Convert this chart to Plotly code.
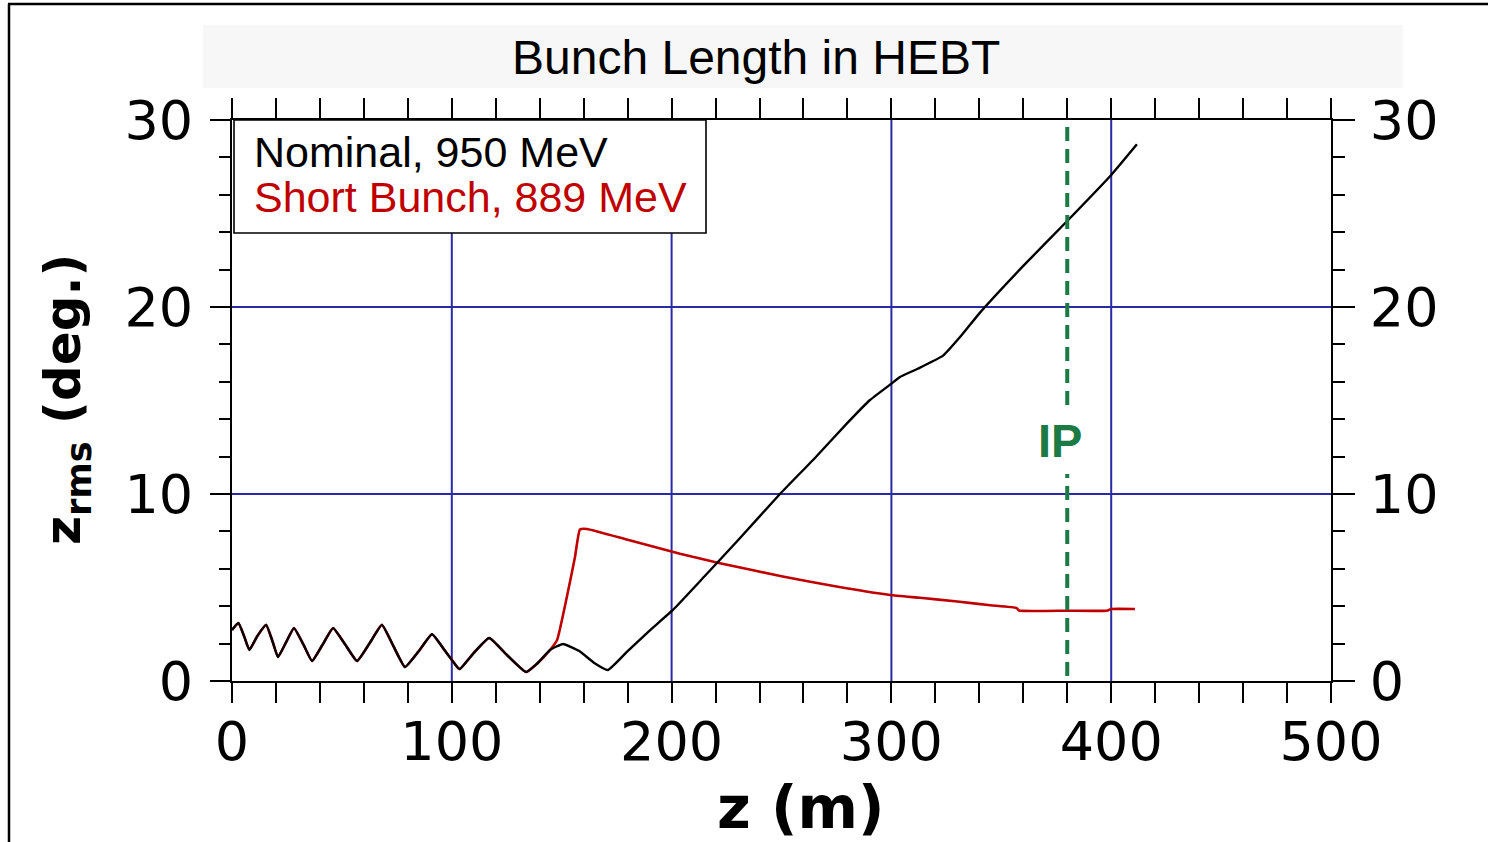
import plotly.graph_objects as go

# ---------------- data ----------------
z_nominal = [0, 2.9, 5.5, 7.9, 11.5, 15.5, 18.5, 20.9, 24.5, 28.2, 32.5, 36.4, 41, 46, 51.5,
             56.9, 62.5, 68.2, 73.5, 78.7, 85, 91, 97, 102.8, 103.7, 110, 117, 125, 133.8,
             139, 144.7, 150.6, 158, 165, 171, 180, 190, 200.6, 215, 230, 249.3, 265,
             280, 290, 300, 303.9, 312, 323.5, 332, 340.3, 360, 380, 400, 411.7]
y_nominal = [2.73, 3.1, 2.4, 1.66, 2.4, 3.0, 2.1, 1.28, 2.05, 2.83, 1.95, 1.07, 1.9, 2.83, 1.95,
             1.07, 2.0, 3.0, 1.85, 0.75, 1.6, 2.5, 1.6, 0.7, 0.64, 1.5, 2.3, 1.4, 0.48,
             0.95, 1.66, 1.98, 1.6, 0.95, 0.59, 1.6, 2.7, 3.8, 5.6, 7.5, 10.0, 11.9,
             13.8, 15.0, 15.9, 16.26, 16.7, 17.4, 18.5, 19.7, 22.2, 24.6, 27.06, 28.7]

z_short = [0, 2.9, 5.5, 7.9, 11.5, 15.5, 18.5, 20.9, 24.5, 28.2, 32.5, 36.4, 41, 46, 51.5,
           56.9, 62.5, 68.2, 73.5, 78.7, 85, 91, 97, 102.8, 103.7, 110, 117, 125, 133.8,
           139, 144.7, 147.9, 152, 156, 158.3, 161.5, 180, 203.8, 222, 250, 275, 299.4,
           313, 330, 345, 357, 358, 380, 398, 400, 410.8]
y_short = [2.73, 3.1, 2.4, 1.66, 2.4, 3.0, 2.1, 1.28, 2.05, 2.83, 1.95, 1.07, 1.9, 2.83, 1.95,
           1.07, 2.0, 3.0, 1.85, 0.75, 1.6, 2.5, 1.6, 0.7, 0.64, 1.5, 2.3, 1.4, 0.48,
           0.95, 1.66, 2.19, 4.3, 6.6, 8.1, 8.13, 7.55, 6.8, 6.3, 5.6, 5.05, 4.6,
           4.45, 4.25, 4.05, 3.9, 3.77, 3.76, 3.76, 3.85, 3.85]

ip_z = 380
x_ticks = [0, 100, 200, 300, 400, 500]
y_ticks = [0, 10, 20, 30]
label_nominal = "Nominal, 950 MeV"
label_short = "Short Bunch, 889 MeV"

# ---------------- layout helpers (pixel geometry) ----------------
W, H = 1488, 842
L, R, T, B = 232, 1331, 120, 681


def xp(px):
    return (px - L) / (R - L)


def yp(py):
    return (B - py) / (B - T)


RED = "#c00000"
GREEN = "#1c7a44"
GRID = "#2a2aa4"

fig = go.Figure()
fig.add_trace(go.Scatter(x=z_short, y=y_short, mode="lines",
                         line=dict(color=RED, width=2.6, shape="spline", smoothing=0.4),
                         showlegend=False))
fig.add_trace(go.Scatter(x=z_nominal, y=y_nominal, mode="lines",
                         line=dict(color="black", width=2.4, shape="spline", smoothing=0.4),
                         showlegend=False))
fig.add_trace(go.Scatter(x=[None], y=[None], yaxis="y2", showlegend=False))

tickfont = dict(family="DejaVu Sans", size=54, color="black")
fig.update_layout(
    width=W, height=H,
    margin=dict(l=L, r=W - R, t=T, b=H - B, pad=0),
    paper_bgcolor="white", plot_bgcolor="white",
    xaxis=dict(range=[0, 500], tickvals=x_ticks, showgrid=False, zeroline=False,
               showline=True, linecolor="black", linewidth=2, mirror="allticks",
               ticks="outside", ticklen=20, tickwidth=2, tickcolor="black",
               ticklabelstandoff=-8, tickfont=tickfont,
               minor=dict(dtick=20, ticks="outside", ticklen=11, tickwidth=2,
                          tickcolor="black", showgrid=False)),
    yaxis=dict(range=[0, 30], tickvals=y_ticks, showgrid=False, zeroline=False,
               showline=True, linecolor="black", linewidth=2,
               ticks="outside", ticklen=20, tickwidth=2, tickcolor="black",
               ticklabelstandoff=6, tickfont=tickfont,
               minor=dict(dtick=2, ticks="outside", ticklen=11, tickwidth=2,
                          tickcolor="black", showgrid=False)),
    yaxis2=dict(range=[0, 30], tickvals=y_ticks, overlaying="y", side="right",
                showgrid=False, zeroline=False, showline=True, linecolor="black",
                linewidth=2, ticks="outside", ticklen=22, tickwidth=2,
                tickcolor="black", ticklabelstandoff=4, tickfont=tickfont,
                minor=dict(dtick=2, ticks="outside", ticklen=12, tickwidth=2,
                           tickcolor="black", showgrid=False)),
)

shapes = []
# grid lines
for gx in [100, 200, 300, 400]:
    shapes.append(dict(type="line", xref="x", yref="y", x0=gx, x1=gx, y0=0, y1=30,
                       line=dict(color=GRID, width=2), layer="below"))
for gy in [10, 20]:
    shapes.append(dict(type="line", xref="x", yref="y", x0=0, x1=500, y0=gy, y1=gy,
                       line=dict(color=GRID, width=2), layer="below"))
# IP dashed marker (two pieces around the label)
shapes.append(dict(type="line", xref="x", yref="paper", x0=ip_z, x1=ip_z,
                   y0=yp(405), y1=1, line=dict(color=GREEN, width=4, dash="14px,8px")))
shapes.append(dict(type="line", xref="x", yref="paper", x0=ip_z, x1=ip_z,
                   y0=yp(676), y1=yp(474), line=dict(color=GREEN, width=4, dash="14px,8px")))
# legend box
shapes.append(dict(type="rect", xref="paper", yref="paper", x0=xp(234), x1=xp(706),
                   y0=yp(233), y1=yp(120), line=dict(color="black", width=1.6),
                   fillcolor="white", layer="above"))
# title background
shapes.append(dict(type="rect", xref="paper", yref="paper", x0=xp(203), x1=xp(1403),
                   y0=yp(88), y1=yp(25), line=dict(width=0), fillcolor="#f7f7f7",
                   layer="below"))
# outer frame (top and left edges)
shapes.append(dict(type="line", xref="paper", yref="paper", x0=xp(8), x1=xp(1500),
                   y0=yp(4), y1=yp(4), line=dict(color="black", width=2.5)))
shapes.append(dict(type="line", xref="paper", yref="paper", x0=xp(9), x1=xp(9),
                   y0=yp(4), y1=yp(860), line=dict(color="black", width=2.5)))
fig.update_layout(shapes=shapes)

ann = []
ann.append(dict(text="Bunch Length in HEBT", xref="paper", yref="paper",
                x=xp(756), y=yp(57), xanchor="center", yanchor="middle", showarrow=False,
                font=dict(family="Liberation Sans", size=48, color="black")))
ann.append(dict(text=label_nominal, xref="paper", yref="paper",
                x=xp(252), y=yp(152), xanchor="left", yanchor="middle", showarrow=False,
                font=dict(family="Liberation Sans", size=43, color="black")))
ann.append(dict(text=label_short, xref="paper", yref="paper",
                x=xp(252), y=yp(197), xanchor="left", yanchor="middle", showarrow=False,
                font=dict(family="Liberation Sans", size=43, color=RED)))
ann.append(dict(text="<b>IP</b>", xref="x", yref="paper",
                x=ip_z - 3.5, y=yp(440), xanchor="center", yanchor="middle", showarrow=False,
                font=dict(family="Liberation Sans", size=47, color=GREEN)))
ann.append(dict(text="<b>z (m)</b>", xref="paper", yref="paper",
                x=xp(800), y=yp(808), xanchor="center", yanchor="middle", showarrow=False,
                font=dict(family="DejaVu Sans", size=58, color="black")))
ann.append(dict(text="<b>z<sub>rms</sub> (deg.)</b>", xref="paper", yref="paper",
                x=xp(66), y=yp(400), xanchor="center", yanchor="middle", showarrow=False,
                textangle=-90,
                font=dict(family="DejaVu Sans", size=50, color="black")))
fig.update_layout(annotations=ann)

fig.write_html("out.html")
